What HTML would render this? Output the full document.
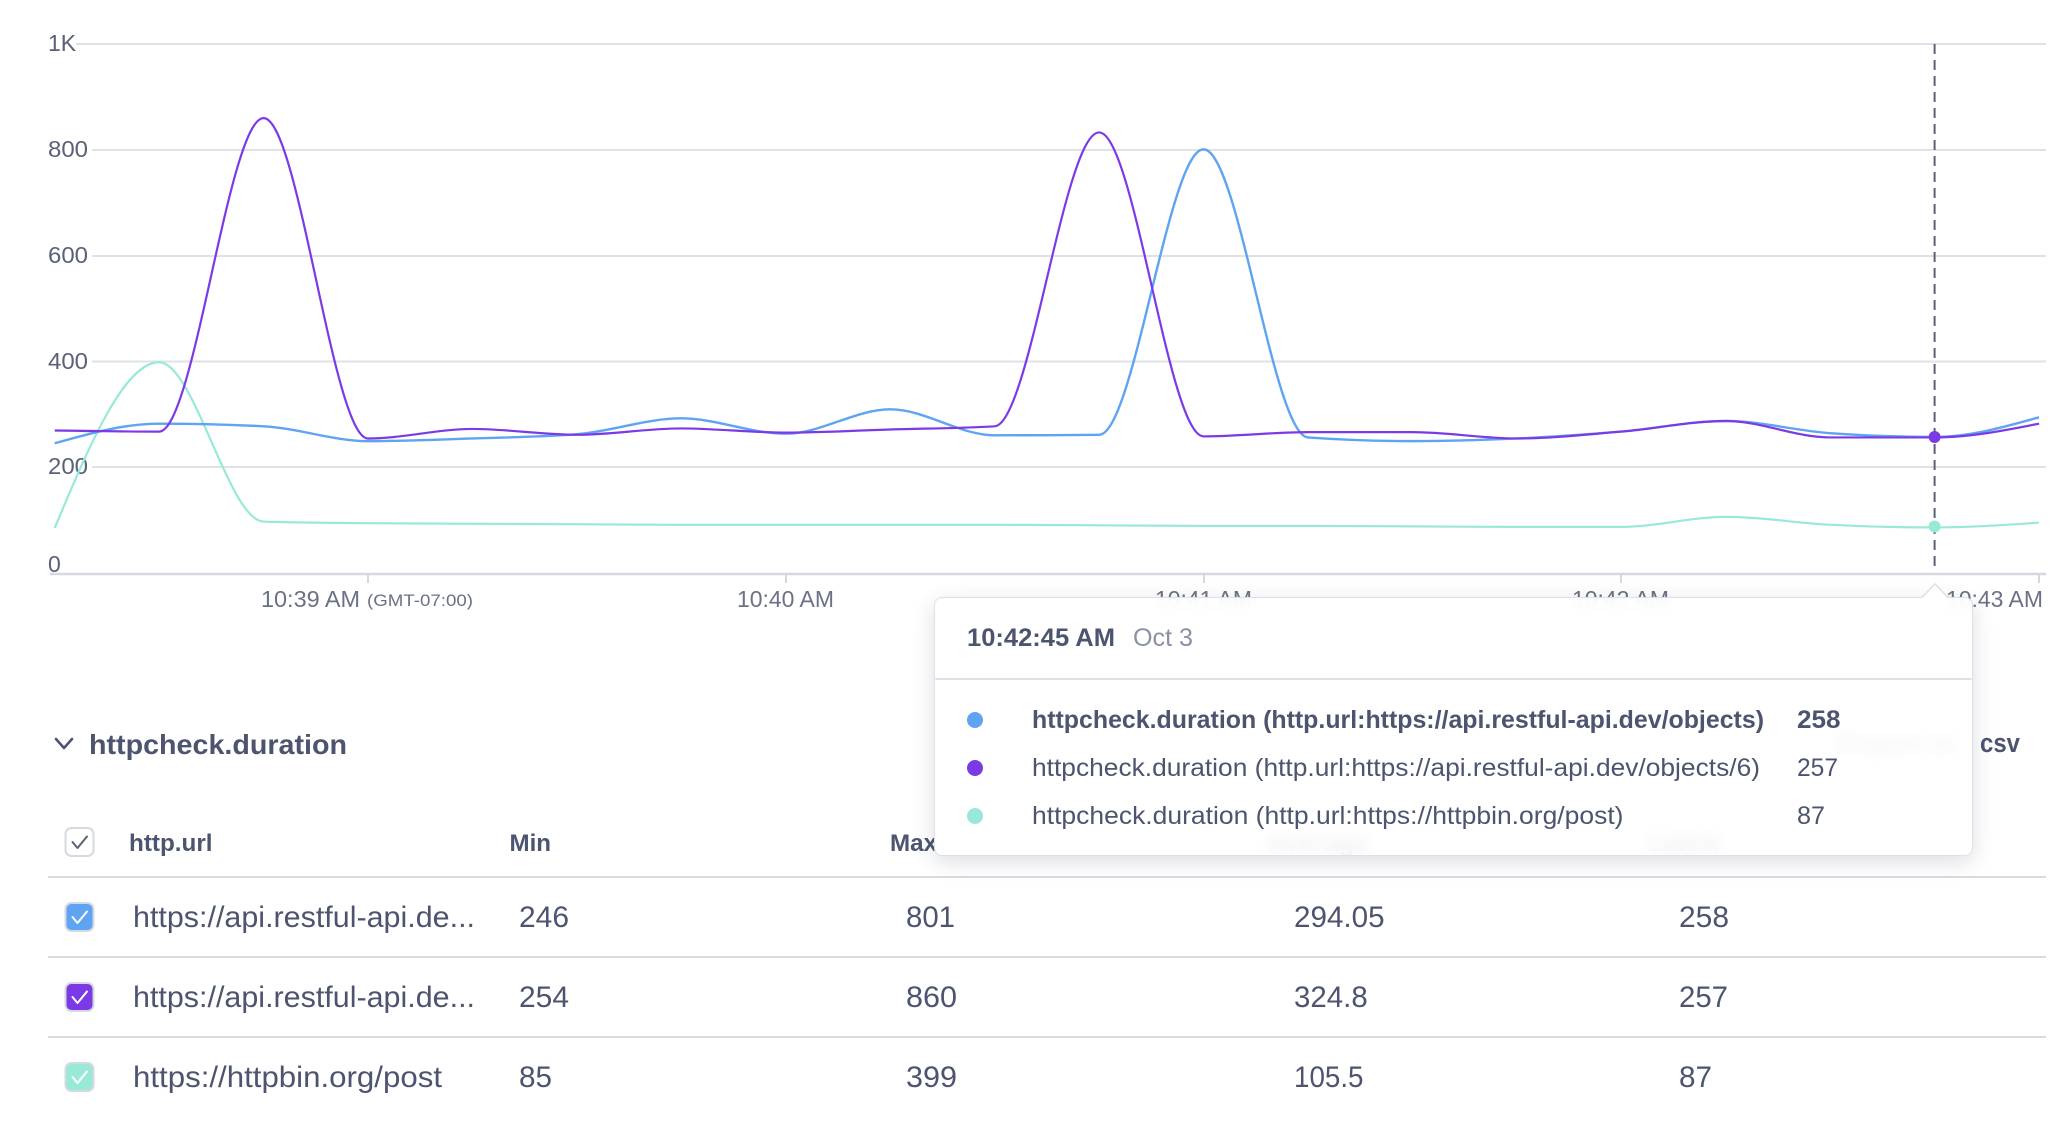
<!DOCTYPE html>
<html><head><meta charset="utf-8">
<style>
html,body{margin:0;padding:0;background:#fff;}
body{width:2066px;height:1126px;overflow:hidden;position:relative;font-family:"Liberation Sans",sans-serif;}
svg{position:absolute;left:0;top:0;}
#tip{position:absolute;left:934px;top:597px;width:1039px;height:259px;box-sizing:border-box;background:rgba(255,255,255,0.9);backdrop-filter:blur(7px);-webkit-backdrop-filter:blur(7px);border:1.5px solid #dde0e6;border-radius:8px;box-shadow:0 6px 22px rgba(40,50,70,0.16);}
</style></head><body>
<svg id="base" width="2066" height="1126" xmlns="http://www.w3.org/2000/svg" font-family="Liberation Sans, sans-serif">
  <!-- gridlines -->
  <g stroke="#dfe1e6" stroke-width="2">
    <line x1="76" y1="44" x2="2046" y2="44"/>
    <line x1="92" y1="150" x2="2046" y2="150"/>
    <line x1="92" y1="256" x2="2046" y2="256"/>
    <line x1="92" y1="361.5" x2="2046" y2="361.5"/>
    <line x1="92" y1="467" x2="2046" y2="467"/>
  </g>
  <line x1="50" y1="574" x2="2046" y2="574" stroke="#d5d8de" stroke-width="2.5"/>
  <g stroke="#d5d8de" stroke-width="2">
    <line x1="368" y1="575" x2="368" y2="583"/>
    <line x1="786" y1="575" x2="786" y2="583"/>
    <line x1="1204" y1="575" x2="1204" y2="583"/>
    <line x1="1621" y1="575" x2="1621" y2="583"/>
    <line x1="2039" y1="575" x2="2039" y2="583"/>
  </g>
  <!-- y labels -->
  <g fill="#5b6178" font-size="23">
    <text x="48" y="51">1K</text>
    <text x="48" y="157" textLength="40" lengthAdjust="spacingAndGlyphs">800</text>
    <text x="48" y="263" textLength="40" lengthAdjust="spacingAndGlyphs">600</text>
    <text x="48" y="369" textLength="40" lengthAdjust="spacingAndGlyphs">400</text>
    <text x="48" y="474" textLength="40" lengthAdjust="spacingAndGlyphs">200</text>
    <text x="48" y="572">0</text>
  </g>
  <!-- x labels -->
  <g fill="#6b7186" font-size="23">
    <text x="261" y="607" textLength="99" lengthAdjust="spacingAndGlyphs">10:39 AM</text>
    <text x="367" y="606" font-size="17" textLength="106" lengthAdjust="spacingAndGlyphs">(GMT-07:00)</text>
    <text x="737" y="607" textLength="97" lengthAdjust="spacingAndGlyphs">10:40 AM</text>
    <text x="1155" y="607" textLength="97" lengthAdjust="spacingAndGlyphs">10:41 AM</text>
    <text x="1572" y="607" textLength="97" lengthAdjust="spacingAndGlyphs">10:42 AM</text>
    <text x="1946" y="607" textLength="97" lengthAdjust="spacingAndGlyphs">10:43 AM</text>
  </g>
  <!-- series -->
  <path id="pTeal" fill="none" stroke="#98e9d8" stroke-width="2.2" stroke-linejoin="round"/>
  <path id="pBlue" fill="none" stroke="#5ea4f3" stroke-width="2.4" stroke-linejoin="round"/>
  <path id="pPurple" fill="none" stroke="#7b3ae6" stroke-width="2.2" stroke-linejoin="round"/>
  <!-- hover -->
  <line x1="1934.6" y1="44" x2="1934.6" y2="568" stroke="#5b6178" stroke-width="2" stroke-dasharray="10 6"/>
  <circle cx="1934.6" cy="437" r="6" fill="#7b3ae6"/>
  <circle cx="1934.6" cy="526.5" r="6" fill="#98e9d8"/>

  <!-- section header -->
  <polyline points="56,739 64,748 72,739" fill="none" stroke="#4d5470" stroke-width="2.6" stroke-linecap="round" stroke-linejoin="round"/>
  <text x="89" y="754" font-size="28" font-weight="bold" fill="#4d5470" textLength="258" lengthAdjust="spacingAndGlyphs">httpcheck.duration</text>
  <text x="1838" y="752" font-size="26" fill="#4d5470" textLength="118" lengthAdjust="spacingAndGlyphs">Export to</text>
  <text x="1980" y="752" font-size="27" font-weight="bold" fill="#4d5470" textLength="40" lengthAdjust="spacingAndGlyphs">csv</text>

  <!-- table header -->
  <rect x="65.5" y="828" width="28" height="28" rx="6" fill="#fff" stroke="#d6d9df" stroke-width="2"/>
  <polyline points="72.5,842 77.5,848 87,836.5" fill="none" stroke="#5b6178" stroke-width="2" stroke-linecap="round" stroke-linejoin="round"/>
  <g font-size="24" font-weight="bold" fill="#4d5470">
    <text x="129" y="851" textLength="83.5" lengthAdjust="spacingAndGlyphs">http.url</text>
    <text x="509.5" y="851" textLength="41.5" lengthAdjust="spacingAndGlyphs">Min</text>
    <text x="890" y="851" textLength="47" lengthAdjust="spacingAndGlyphs">Max</text>
    <text x="1267" y="851" textLength="102" lengthAdjust="spacingAndGlyphs">Average</text>
    <text x="1648" y="851" textLength="72" lengthAdjust="spacingAndGlyphs">Latest</text>
  </g>
  <g stroke="#d8dbe0" stroke-width="2">
    <line x1="48" y1="877" x2="2046" y2="877"/>
    <line x1="48" y1="957" x2="2046" y2="957"/>
    <line x1="48" y1="1037" x2="2046" y2="1037"/>
  </g>
  <!-- row checkboxes -->
  <rect x="65.5" y="903" width="28" height="28" rx="6" fill="#5ea4f3" stroke="#d6d9df" stroke-width="2"/>
  <polyline points="72.5,917 77.5,923 87,911.5" fill="none" stroke="#fff" stroke-width="2" stroke-linecap="round" stroke-linejoin="round"/>
  <rect x="65.5" y="983" width="28" height="28" rx="6" fill="#7b3ae6" stroke="#d6d9df" stroke-width="2"/>
  <polyline points="72.5,997 77.5,1003 87,991.5" fill="none" stroke="#fff" stroke-width="2" stroke-linecap="round" stroke-linejoin="round"/>
  <rect x="65.5" y="1063" width="28" height="28" rx="6" fill="#98e9d8" stroke="#d6d9df" stroke-width="2"/>
  <polyline points="72.5,1077 77.5,1083 87,1071.5" fill="none" stroke="#fff" stroke-width="2" stroke-linecap="round" stroke-linejoin="round"/>
  <!-- rows -->
  <g font-size="30" fill="#4d5470">
    <text x="133" y="927" textLength="342" lengthAdjust="spacingAndGlyphs">https://api.restful-api.de...</text>
    <text x="519" y="927" textLength="50" lengthAdjust="spacingAndGlyphs">246</text>
    <text x="906" y="927" textLength="49" lengthAdjust="spacingAndGlyphs">801</text>
    <text x="1294" y="927" textLength="90.6" lengthAdjust="spacingAndGlyphs">294.05</text>
    <text x="1679" y="927" textLength="50" lengthAdjust="spacingAndGlyphs">258</text>

    <text x="133" y="1007" textLength="342" lengthAdjust="spacingAndGlyphs">https://api.restful-api.de...</text>
    <text x="519" y="1007" textLength="50" lengthAdjust="spacingAndGlyphs">254</text>
    <text x="906" y="1007" textLength="51" lengthAdjust="spacingAndGlyphs">860</text>
    <text x="1294" y="1007" textLength="73.7" lengthAdjust="spacingAndGlyphs">324.8</text>
    <text x="1679" y="1007" textLength="49" lengthAdjust="spacingAndGlyphs">257</text>

    <text x="133" y="1087" textLength="309" lengthAdjust="spacingAndGlyphs">https://httpbin.org/post</text>
    <text x="519" y="1087" textLength="33" lengthAdjust="spacingAndGlyphs">85</text>
    <text x="906" y="1087" textLength="51" lengthAdjust="spacingAndGlyphs">399</text>
    <text x="1294" y="1087" textLength="69.5" lengthAdjust="spacingAndGlyphs">105.5</text>
    <text x="1679" y="1087" textLength="33" lengthAdjust="spacingAndGlyphs">87</text>
  </g>
</svg>
<div id="tip"></div>
<svg id="over" width="2066" height="1126" xmlns="http://www.w3.org/2000/svg" font-family="Liberation Sans, sans-serif">
  <polygon points="1922,599 1935,584.5 1948,599" fill="#fff"/>
  <polyline points="1921.5,597.8 1935,584 1948.5,597.8" fill="none" stroke="#dde0e6" stroke-width="1.5"/>
  <text x="967" y="646" font-size="25" font-weight="bold" fill="#4d5470" textLength="148" lengthAdjust="spacingAndGlyphs">10:42:45 AM</text>
  <text x="1133" y="646" font-size="25" fill="#8b91a4" textLength="60" lengthAdjust="spacingAndGlyphs">Oct 3</text>
  <line x1="935.5" y1="679" x2="1971.5" y2="679" stroke="#dde0e6" stroke-width="2"/>
  <circle cx="975" cy="720" r="8" fill="#5ea4f3"/>
  <circle cx="975" cy="768" r="8" fill="#7b3ae6"/>
  <circle cx="975" cy="816" r="8" fill="#98e9d8"/>
  <g font-size="25" fill="#4d5470">
    <text x="1032" y="728" font-weight="bold" textLength="732" lengthAdjust="spacingAndGlyphs">httpcheck.duration (http.url:https://api.restful-api.dev/objects)</text>
    <text x="1797" y="728" font-weight="bold" textLength="43.5" lengthAdjust="spacingAndGlyphs">258</text>
    <text x="1032" y="776" textLength="728" lengthAdjust="spacingAndGlyphs">httpcheck.duration (http.url:https://api.restful-api.dev/objects/6)</text>
    <text x="1797" y="776" textLength="41" lengthAdjust="spacingAndGlyphs">257</text>
    <text x="1032" y="824" textLength="591.5" lengthAdjust="spacingAndGlyphs">httpcheck.duration (http.url:https://httpbin.org/post)</text>
    <text x="1797" y="824" textLength="28" lengthAdjust="spacingAndGlyphs">87</text>
  </g>
</svg>
<script>
(function(){
  var X0=54.7, DX=104.44;
  function Y(v){return 573.5-0.5295*v;}
  function sgn(x){return x<0?-1:1;}
  function mono(vals){
    var n=vals.length, xs=[], ys=[], t=[], i;
    for(i=0;i<n;i++){xs.push(X0+DX*i); ys.push(Y(vals[i]));}
    for(i=1;i<n-1;i++){
      var h0=xs[i]-xs[i-1], h1=xs[i+1]-xs[i];
      var s0=(ys[i]-ys[i-1])/h0, s1=(ys[i+1]-ys[i])/h1;
      var p=(s0*h1+s1*h0)/(h0+h1);
      t[i]=(sgn(s0)+sgn(s1))*Math.min(Math.abs(s0),Math.abs(s1),0.5*Math.abs(p))||0;
    }
    t[0]=(3*(ys[1]-ys[0])/(xs[1]-xs[0])-t[1])/2;
    t[n-1]=(3*(ys[n-1]-ys[n-2])/(xs[n-1]-xs[n-2])-t[n-2])/2;
    var d="M"+xs[0].toFixed(2)+","+ys[0].toFixed(2);
    for(i=0;i<n-1;i++){
      var dx=(xs[i+1]-xs[i])/3;
      d+="C"+(xs[i]+dx).toFixed(2)+","+(ys[i]+dx*t[i]).toFixed(2)+" "+(xs[i+1]-dx).toFixed(2)+","+(ys[i+1]-dx*t[i+1]).toFixed(2)+" "+xs[i+1].toFixed(2)+","+ys[i+1].toFixed(2);
    }
    return d;
  }
  var blue=[246,283,278,250,255,263,293,264,310,261,262,801,257,250,255,268,288,265,258,295];
  var purple=[270,268,860,255,273,262,274,266,272,278,833,259,267,267,255,268,288,257,257,283];
  var teal=[86,399,98,95,94,93,92,92,92,92,91,90,90,89,88,88,107,92,87,96];
  document.getElementById("pBlue").setAttribute("d",mono(blue));
  document.getElementById("pPurple").setAttribute("d",mono(purple));
  document.getElementById("pTeal").setAttribute("d",mono(teal));
})();
</script>
</body></html>
